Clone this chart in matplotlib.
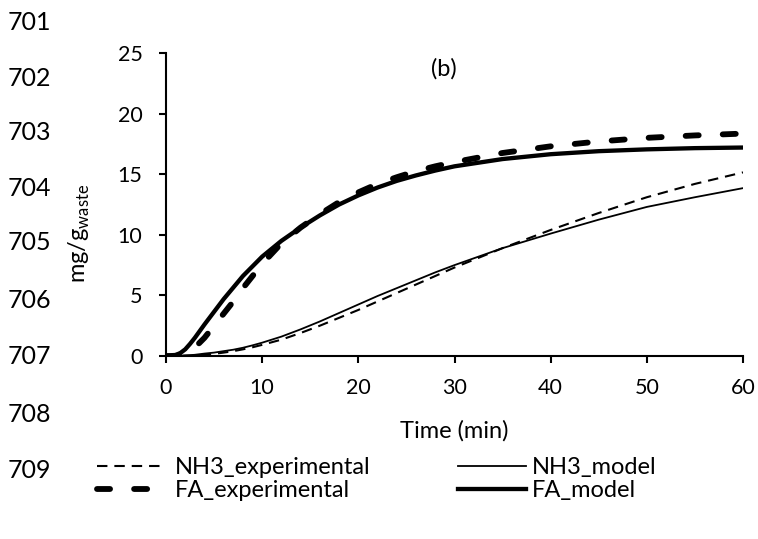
import matplotlib
matplotlib.use("Agg")
from matplotlib import pyplot as plt

plt.rcParams["font.family"] = ["Lato", "DejaVu Sans"]
plt.rcParams["mathtext.fontset"] = "custom"
plt.rcParams["mathtext.rm"] = "Lato"
plt.rcParams["lines.scale_dashes"] = False

# time points (min)
t = [0, 0.5, 1, 1.5, 2, 2.5, 3, 4, 5, 6, 7, 8, 9, 10, 12, 14, 16, 18, 20, 22, 24,
     26, 28, 30, 35, 40, 45, 50, 55, 60]

nh3_exp = [0, 0, 0.0, 0.01, 0.02, 0.03, 0.05, 0.1, 0.18, 0.28, 0.4, 0.55, 0.72, 0.92,
           1.35, 1.9, 2.5, 3.15, 3.8, 4.5, 5.2, 5.9, 6.6, 7.3, 8.9, 10.4, 11.8, 13.1,
           14.2, 15.15]
nh3_mod = [0, 0.005, 0.02, 0.03, 0.05, 0.07, 0.1, 0.2, 0.28, 0.4, 0.52, 0.68, 0.88, 1.1,
           1.6, 2.2, 2.85, 3.55, 4.25, 4.95, 5.6, 6.25, 6.9, 7.5, 8.9, 10.1, 11.25, 12.3,
           13.1, 13.85]
fa_exp = [0, 0, 0.02, 0.06, 0.15, 0.35, 0.7, 1.5, 2.5, 3.5, 4.5, 5.6, 6.6, 7.6,
          9.3, 10.6, 11.7, 12.7, 13.5, 14.2, 14.75, 15.25, 15.65, 16.0, 16.75, 17.3,
          17.7, 18.0, 18.2, 18.35]
fa_mod = [0, 0.02, 0.08, 0.25, 0.55, 1.0, 1.5, 2.6, 3.65, 4.7, 5.65, 6.6, 7.4, 8.2,
          9.5, 10.6, 11.6, 12.5, 13.25, 13.9, 14.45, 14.9, 15.3, 15.65, 16.25, 16.65,
          16.9, 17.05, 17.15, 17.2]

xticks = [0, 10, 20, 30, 40, 50, 60]
yticks = [0, 5, 10, 15, 20, 25]
line_nums = [701, 702, 703, 704, 705, 706, 707, 708, 709]

W, H = 758, 539
fig = plt.figure(figsize=(W / 100, H / 100), dpi=100)
ax = fig.add_axes([166 / W, 1 - 356 / H, (743 - 166) / W, (356 - 53) / H])

l1, = ax.plot(t, nh3_exp, color="k", lw=1.5, dashes=(7.5, 5), label="NH3_experimental")
l2, = ax.plot(t, nh3_mod, color="k", lw=1.3, label="NH3_model")
l3, = ax.plot(t, fa_exp, color="k", lw=4.2, dashes=(9.4, 17.3),
              dash_capstyle="round", label="FA_experimental")
l4, = ax.plot(t, fa_mod, color="k", lw=3.1, label="FA_model")

ax.set_xlim(0, 60)
ax.set_ylim(0, 25)
ax.set_xticks(xticks)
ax.set_yticks(yticks)
for s in ["top", "right"]:
    ax.spines[s].set_visible(False)
for s in ["left", "bottom"]:
    ax.spines[s].set_linewidth(1.5)
ax.tick_params(axis="both", direction="out", length=5, width=1.5, labelsize=15.5)
ax.tick_params(axis="x", pad=11)
ax.tick_params(axis="y", pad=12)

ax.text(28.9, 23.7, "(b)", fontsize=17, ha="center", va="center")
fig.text(454 / W, 1 - 431 / H, "Time (min)", fontsize=17, ha="center", va="center")
fig.text(79 / W, 1 - 233 / H, r"mg/g$_\mathregular{waste}$", fontsize=17,
         rotation=90, ha="center", va="center")

# manuscript line numbers down the margin
ys = [22, 78, 133, 189, 243, 301, 356, 414, 470]
for n, y in zip(line_nums, ys):
    fig.text(8 / W, 1 - y / H, str(n), fontsize=18, ha="left", va="center")

leg1 = fig.legend(handles=[l1, l3], loc="upper left", bbox_to_anchor=(97 / W, 1 - 457 / H),
                  frameon=False, fontsize=17, handlelength=2.9, handletextpad=0.4,
                  labelspacing=0.1, borderaxespad=0, borderpad=0)
leg2 = fig.legend(handles=[l2, l4], loc="upper left", bbox_to_anchor=(458 / W, 1 - 457 / H),
                  frameon=False, fontsize=17, handlelength=2.9, handletextpad=0.25,
                  labelspacing=0.1, borderaxespad=0, borderpad=0)

fig.savefig("out.png", dpi=100)
